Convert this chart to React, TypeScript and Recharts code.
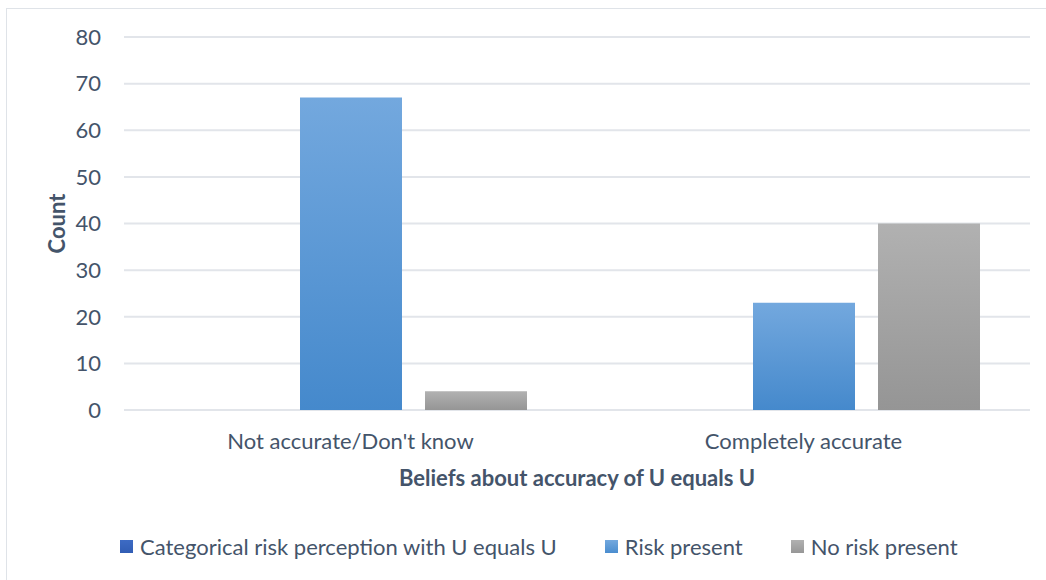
import React from "react";
import { BarChart, Bar, XAxis, YAxis, CartesianGrid, Legend } from "recharts";

// categories on the x axis
const categories = ["Not accurate/Don't know", "Completely accurate"];

// series values (counts)
const categoricalRisk = [0, 0];
const riskPresent = [67, 23];
const noRiskPresent = [4, 40];

const yTicks = [0, 10, 20, 30, 40, 50, 60, 70, 80];

const seriesNames = [
  "Categorical risk perception with U equals U",
  "Risk present",
  "No risk present",
];

const data = categories.map((name, i) => ({
  name,
  categorical: categoricalRisk[i],
  risk: riskPresent[i],
  noRisk: noRiskPresent[i],
}));

const FONT = "Lato, 'Noto Sans', sans-serif";
const TEXT = "#44546a";
const FS = 22;

const legendItems = [
  { label: seriesNames[0], top: "#3d6bc4", bottom: "#315db4" },
  { label: seriesNames[1], top: "#73a8de", bottom: "#4a8dcf" },
  { label: seriesNames[2], top: "#b1b1b1", bottom: "#979797" },
];

// legend row sits low in its box, under the axis title
const LegendRow = () => (
  <div
    style={{
      boxSizing: "border-box",
      height: 75,
      paddingTop: 36,
      paddingLeft: 113,
      display: "flex",
      alignItems: "flex-start",
      fontFamily: FONT,
      fontSize: FS,
      color: TEXT,
    }}
  >
    {legendItems.map((it, i) => (
      <div
        key={it.label}
        style={{ display: "flex", alignItems: "center", height: 30, marginRight: i < 2 ? 48 : 0 }}
      >
        <span
          style={{
            display: "inline-block",
            width: 13,
            height: 13,
            marginRight: 7,
            background: `linear-gradient(${it.top}, ${it.bottom})`,
          }}
        />
        <span style={{ whiteSpace: "nowrap" }}>{it.label}</span>
      </div>
    ))}
  </div>
);

const XTitle = ({ viewBox }: any) => (
  <text
    x={viewBox.x + viewBox.width / 2}
    y={viewBox.y + 76}
    textAnchor="middle"
    fontFamily={FONT}
    fontSize={FS}
    fontWeight={700}
    fill={TEXT}
  >
    Beliefs about accuracy of U equals U
  </text>
);

const YTitle = ({ viewBox }: any) => {
  const x = 57.5;
  const y = viewBox.y + viewBox.height / 2;
  return (
    <text
      x={x}
      y={y}
      transform={`rotate(-90, ${x}, ${y})`}
      textAnchor="middle"
      fontFamily={FONT}
      fontSize={FS}
      fontWeight={700}
      fill={TEXT}
    >
      Count
    </text>
  );
};

export default function App() {
  return (
    <div
      style={{
        position: "absolute",
        left: 6,
        top: 8,
        width: 1060,
        height: 600,
        border: "1px solid #dfe3e8",
        background: "#fff",
      }}
    >
      <BarChart
        width={1039}
        height={571}
        data={data}
        margin={{ top: 28, right: 16, left: 57, bottom: 10 }}
        barSize={102}
        barGap={23}
      >
        <defs>
          <linearGradient id="gradBlue" x1="0" y1="0" x2="0" y2="1">
            <stop offset="0%" stopColor="#73a8de" />
            <stop offset="100%" stopColor="#4589cc" />
          </linearGradient>
          <linearGradient id="gradGray" x1="0" y1="0" x2="0" y2="1">
            <stop offset="0%" stopColor="#b1b1b1" />
            <stop offset="100%" stopColor="#959595" />
          </linearGradient>
          <linearGradient id="gradDark" x1="0" y1="0" x2="0" y2="1">
            <stop offset="0%" stopColor="#3d6bc4" />
            <stop offset="100%" stopColor="#315db4" />
          </linearGradient>
        </defs>
        <CartesianGrid vertical={false} stroke="#e2e5ea" strokeWidth={2} />
        <XAxis
          dataKey="name"
          height={85}
          axisLine={false}
          tickLine={false}
          tickMargin={17}
          tick={{ fill: TEXT, fontSize: FS, fontFamily: FONT }}
          label={<XTitle />}
        />
        <YAxis
          width={60}
          domain={[0, 80]}
          ticks={yTicks}
          interval={0}
          axisLine={false}
          tickLine={false}
          tickMargin={17}
          tick={{ fill: TEXT, fontSize: FS, fontFamily: FONT }}
          label={<YTitle />}
        />
        <Legend
          verticalAlign="bottom"
          align="left"
          wrapperStyle={{ left: 0, width: 1039 }}
          content={<LegendRow />}
        />
        <Bar dataKey="categorical" name={seriesNames[0]} fill="url(#gradDark)" isAnimationActive={false} />
        <Bar dataKey="risk" name={seriesNames[1]} fill="url(#gradBlue)" isAnimationActive={false} />
        <Bar dataKey="noRisk" name={seriesNames[2]} fill="url(#gradGray)" isAnimationActive={false} />
      </BarChart>
    </div>
  );
}
